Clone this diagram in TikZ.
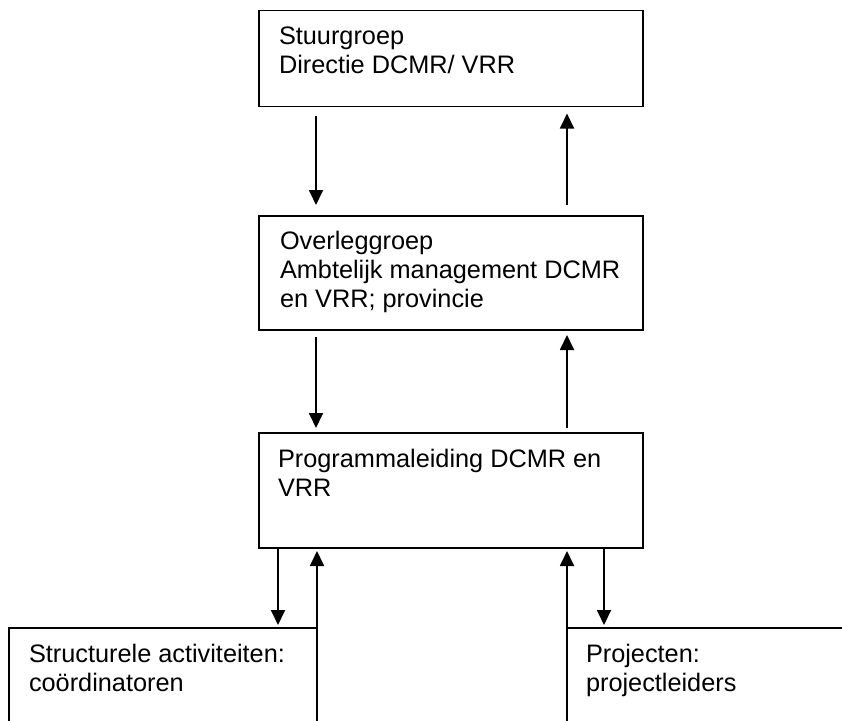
\documentclass[tikz,border=0pt]{standalone}
\usepackage{fontspec}
\setmainfont{Liberation Sans}
\usetikzlibrary{arrows.meta,calc}
\begin{document}
\begin{tikzpicture}[x=1pt,y=-1pt,
  box/.style={draw, rectangle, line width=1.8pt, inner sep=0pt, outer sep=0pt, anchor=north west},
  txt/.style={inner sep=0pt, outer sep=0pt, anchor=north west, align=left, font=\fontsize{25.3}{29.3}\selectfont},
  arr/.style={line width=1.8pt, -{Triangle[length=15pt,width=14pt]}}]
\useasboundingbox (0,0) rectangle (842,720);
\clip (0,0) rectangle (842,720);
% boxes
\node[box, minimum width=384pt, minimum height=96pt]  (stuur)   at (259,10.5) {};
\node[box, minimum width=384pt, minimum height=114pt] (overleg) at (259,216) {};
\node[box, minimum width=384pt, minimum height=115pt] (prog)    at (259,433) {};
\node[box, minimum width=308pt, minimum height=132pt] (left)    at (9,628) {};
\node[box, minimum width=303pt, minimum height=132pt] (right)   at (567,628) {};
% texts
\node[txt] (stuurtxt)   at (279,27)  {Stuurgroep\\Directie DCMR/ VRR};
\node[txt] (overlegtxt) at (280,231) {Overleggroep\\Ambtelijk management DCMR\\en VRR; provincie};
\node[txt] (progtxt)    at (278,449) {Programmaleiding DCMR en\\VRR};
\node[txt] (lefttxt)    at (29,644)  {Structurele activiteiten:\\coördinatoren};
\node[txt] (righttxt)   at (586,644) {Projecten:\\projectleiders};
% connectors
\draw[arr] ($(stuur.south west)+(57,9)$) -- ($(overleg.north west)+(57,-11)$);
\draw[arr] ($(overleg.north west)+(308,-11)$) -- ($(stuur.south west)+(308,7)$);
\draw[arr] ($(overleg.south west)+(57,7)$) -- ($(prog.north west)+(57,-5)$);
\draw[arr] ($(prog.north west)+(308,-5)$) -- ($(overleg.south west)+(308,5)$);
\draw[arr] ($(prog.south west)+(19,0)$) -- ($(left.north west)+(269,-3)$);
\draw[arr] (left.south east) -- ($(prog.south west)+(58,3)$);
\draw[arr] (right.south west) -- ($(prog.south west)+(308,3)$);
\draw[arr] ($(prog.south west)+(345,0)$) -- ($(right.north west)+(37,-3)$);
\end{tikzpicture}
\end{document}
